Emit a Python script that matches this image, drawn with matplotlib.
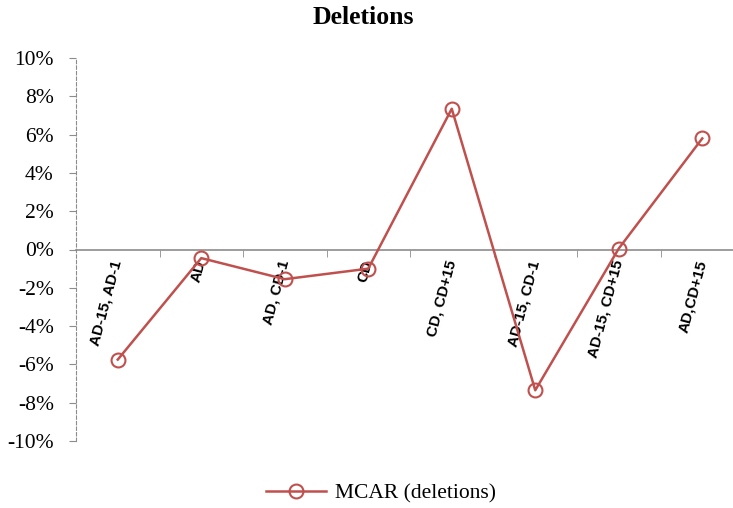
import matplotlib
matplotlib.use('Agg')
import matplotlib.pyplot as plt
import numpy as np

# data
categories = ["AD-15, AD-1", "AD", "AD, CD-1", "CD", "CD, CD+15",
              "AD-15, CD-1", "AD-15, CD+15", "AD,CD+15"]
mcar_deletions = [-5.75, -0.45, -1.55, -1.0, 7.35, -7.35, 0.05, 5.8]
yticks = [-10, -8, -6, -4, -2, 0, 2, 4, 6, 8, 10]

lineColor = '#C0504D'
axisGray = '#8C8C8C'

fig = plt.figure(figsize=(7.33, 5.08), dpi=100)
ax = fig.add_axes([76/733., 1 - 441/508., (744 - 76)/733., (441 - 58)/508.])

xPos = np.arange(len(categories))
ax.plot(xPos, mcar_deletions, '-o', color=lineColor, lw=1.8,
        markersize=10, markerfacecolor='none', markeredgewidth=1.5,
        label="MCAR (deletions)", clip_on=False, zorder=3)

ax.set_xlim(-0.5, len(categories) - 0.5)
ax.set_ylim(-10, 10)

# spines: dashed left axis, solid horizontal axis at zero
for s in ['top', 'right']:
    ax.spines[s].set_visible(False)
ax.spines['left'].set_color(axisGray)
ax.spines['left'].set_linestyle((0, (3, 2)))
ax.spines['bottom'].set_position(('data', 0))
ax.spines['bottom'].set_color(axisGray)
ax.spines['bottom'].set_linewidth(1.2)

ax.set_yticks(yticks)
ax.set_yticklabels(['%d%%' % v for v in yticks], fontsize=15.5,
                   fontfamily='Liberation Serif')
ax.tick_params(axis='y', direction='out', length=5, color=axisGray, pad=11)

# category labels at centres, tick marks at the boundaries
ax.set_xticks(xPos)
ax.set_xticklabels(categories, rotation=75, ha='right', va='center',
                   rotation_mode='anchor', fontsize=11, fontweight='bold',
                   fontfamily='Liberation Sans')
ax.tick_params(axis='x', which='major', length=0, pad=8)
ax.set_xticks(np.arange(len(categories)) + 0.5, minor=True)
ax.tick_params(axis='x', which='minor', direction='out', length=5, color=axisGray)

fig.text(363/733., 1 - 18/508., "Deletions", ha='center', va='center',
         fontsize=18.5, fontweight='bold', fontfamily='Liberation Serif')

leg = fig.legend(loc='center', bbox_to_anchor=(381/733., 1 - 493/508.),
                 frameon=False, prop={'family': 'Liberation Serif', 'size': 15.5},
                 handlelength=2.8, handletextpad=0.4)

fig.savefig('out.png', dpi=100)
